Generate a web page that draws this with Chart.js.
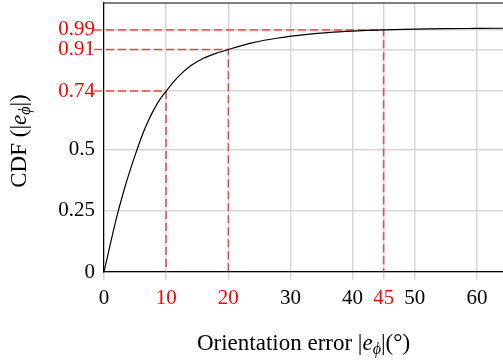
<!DOCTYPE html>
<html>
<head>
<meta charset="utf-8">
<script src="https://cdn.jsdelivr.net/npm/chart.js@4.4.1/dist/chart.umd.min.js"></script>
<style>
  html, body { margin: 0; padding: 0; background: #fff; }
  canvas { display: block; }
</style>
</head>
<body>
<canvas id="cdfChart" width="503" height="360"></canvas>
<script>
// --- Data ---
const errorDeg = [0, 1, 2, 3, 4, 5, 6, 7, 8, 9, 10, 12, 14, 16, 18, 20, 24, 28, 32, 36, 40, 45, 50, 55, 60, 65];
const cdfValues = [0, 0.112, 0.22, 0.315, 0.4, 0.477, 0.549, 0.611, 0.663, 0.706, 0.74, 0.8, 0.844, 0.874, 0.894, 0.91, 0.938, 0.957, 0.97, 0.979, 0.985, 0.99, 0.993, 0.995, 0.996, 0.997];
const xTicks = [0, 10, 20, 30, 40, 45, 50, 60];
const yTicks = [0, 0.25, 0.5, 0.74, 0.91, 0.99];
const markerX = [10, 20, 45];
const markerY = [0.74, 0.91, 0.99];

const SERIF = '"Liberation Serif", "DejaVu Serif", serif';
const RED = '#ff0000';

// --- Rich text helper for axis titles (italic e, subscript phi) ---
function drawRich(ctx, parts, cx, cy, rotate) {
    ctx.save();
    ctx.translate(cx, cy);
    if (rotate) ctx.rotate(-Math.PI / 2);
    ctx.textBaseline = 'alphabetic';
    ctx.fillStyle = '#000';
    let total = 0;
    parts.forEach(p => { ctx.font = p.f; total += ctx.measureText(p.t).width; });
    let x = -total / 2;
    parts.forEach(p => {
        ctx.font = p.f;
        ctx.fillText(p.t, x, 8 + (p.dy || 0));
        x += ctx.measureText(p.t).width;
    });
    ctx.restore();
}

// --- Plugin: red guide lines, top border, axis titles ---
const guidePlugin = {
    id: 'guides',
    beforeDatasetsDraw(chart) {
        const { ctx, chartArea, scales } = chart;
        ctx.save();
        ctx.strokeStyle = 'rgba(255, 30, 30, 0.8)';
        ctx.lineWidth = 1.5;
        ctx.setLineDash([8, 4]);
        markerX.forEach((mx, i) => {
            const px = scales.x.getPixelForValue(mx);
            const py = scales.y.getPixelForValue(markerY[i]);
            ctx.beginPath();
            ctx.moveTo(chartArea.left - 10, py);
            ctx.lineTo(px, py);
            ctx.lineTo(px, scales.y.getPixelForValue(0));
            ctx.stroke();
        });
        ctx.restore();
    },
    afterDraw(chart) {
        const { ctx, chartArea } = chart;
        ctx.save();
        ctx.strokeStyle = '#000';
        ctx.lineWidth = 1.2;
        ctx.beginPath();
        ctx.moveTo(chartArea.left, chartArea.top);
        ctx.lineTo(chartArea.right, chartArea.top);
        ctx.stroke();
        ctx.restore();

        const f = '23px ' + SERIF;
        const fi = 'italic 23px ' + SERIF;
        const fs = 'italic 16px ' + SERIF;
        drawRich(ctx, [
            { t: 'Orientation error |', f: f },
            { t: 'e', f: fi },
            { t: 'ϕ', f: fs, dy: 4 },
            { t: '|(°)', f: f }
        ], (chartArea.left + chartArea.right) / 2, 342, false);
        drawRich(ctx, [
            { t: 'CDF (|', f: f },
            { t: 'e', f: fi },
            { t: 'ϕ', f: fs, dy: 4 },
            { t: '|)', f: f }
        ], 18, 141, true);
    }
};

new Chart(document.getElementById('cdfChart').getContext('2d'), {
    type: 'line',
    data: {
        datasets: [{
            data: errorDeg.map((x, i) => ({ x: x, y: cdfValues[i] })),
            borderColor: '#000',
            borderWidth: 1.2,
            pointRadius: 0,
            fill: false,
            cubicInterpolationMode: 'monotone'
        }]
    },
    options: {
        responsive: false,
        animation: false,
        devicePixelRatio: 1,
        layout: { padding: { top: 3, right: 0, left: 0, bottom: 0 } },
        plugins: { legend: { display: false }, tooltip: { enabled: false } },
        scales: {
            x: {
                type: 'linear',
                min: 0,
                max: 64.2,
                afterBuildTicks: s => { s.ticks = xTicks.map(v => ({ value: v })); },
                afterFit: s => { s.height = 88; s.paddingLeft = 0; s.paddingRight = 0; },
                ticks: {
                    font: { family: SERIF, size: 21 },
                    color: c => markerX.includes(c.tick.value) ? RED : '#000',
                    padding: 6,
                    maxRotation: 0,
                    autoSkip: false
                },
                grid: { color: '#d6d6d6', lineWidth: 1.5, tickLength: 8, drawTicks: true },
                border: { color: '#000', width: 1.2 }
            },
            y: {
                type: 'linear',
                min: 0,
                max: 1.1,
                afterBuildTicks: s => { s.ticks = yTicks.map(v => ({ value: v })); },
                afterFit: s => { s.width = 104; s.paddingTop = 0; s.paddingBottom = 0; },
                ticks: {
                    font: { family: SERIF, size: 21 },
                    color: c => markerY.includes(c.tick.value) ? RED : '#000',
                    padding: 9,
                    autoSkip: false,
                    callback: v => String(v)
                },
                grid: { color: '#d6d6d6', lineWidth: 1.5, drawTicks: false },
                border: { color: '#000', width: 1.2 }
            }
        }
    },
    plugins: [guidePlugin]
});
</script>
</body>
</html>
